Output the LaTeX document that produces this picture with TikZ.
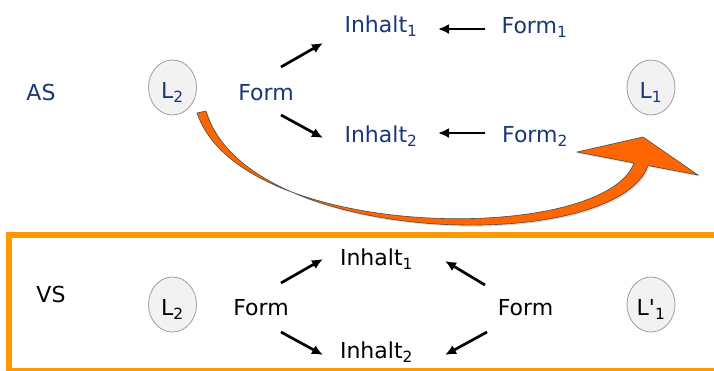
\documentclass[tikz,border=0pt]{standalone}
\usepackage{fontspec}
\newfontfamily\verdfont{DejaVu Sans}
\usetikzlibrary{arrows.meta,shapes.geometric,shadows}
\definecolor{asblau}{RGB}{25,55,120}
\definecolor{rahmen}{RGB}{255,153,0}
\definecolor{bogen}{RGB}{255,102,0}
\definecolor{kreis}{RGB}{242,242,242}

\begin{document}
\begin{tikzpicture}[x=1pt,y=-1pt,line width=.5pt,
  txt/.style={anchor=base,inner sep=0pt,font=\verdfont\fontsize{22}{26}\selectfont},
  sprache/.style={ellipse,draw=black!38,fill=kreis,line width=.8pt,minimum width=48pt,minimum height=55pt,inner sep=0pt,text height=22pt,text depth=0pt,font=\verdfont\fontsize{22}{26}\selectfont},
  pfeil/.style={line width=2.7pt,-{Latex[length=11pt,width=10pt]}}]
\path[use as bounding box] (0,0) rectangle (714,370);
% AS
\node[txt,asblau] (asLbl) at (41,100) {AS};
\node[sprache,text=asblau] (lzweiA) at (172.5,87.5) {L\textsubscript{2}};
\node[txt,asblau] (formA) at (266,100) {Form};
\node[txt,asblau] (inhaltA) at (381,32.5) {Inhalt\textsubscript{1}};
\node[txt,asblau] (inhaltB) at (381,142.5) {Inhalt\textsubscript{2}};
\node[txt,asblau] (formEins) at (534.5,33) {Form\textsubscript{1}};
\node[txt,asblau] (formZwei) at (535,142.5) {Form\textsubscript{2}};
\node[sprache,text=asblau] (lEins) at (651,87.5) {L\textsubscript{1}};
\draw[pfeil] ([shift={(15,-33)}]formA.base) -- ([shift={(-58,10.5)}]inhaltA.base);
\draw[pfeil] ([shift={(15,15)}]formA.base) -- ([shift={(-58,-4.5)}]inhaltB.base);
\draw[pfeil] ([shift={(-49.5,-4)}]formEins.base) -- ([shift={(57,-3.5)}]inhaltA.base);
\draw[pfeil] ([shift={(-50,-9.5)}]formZwei.base) -- ([shift={(57,-9.5)}]inhaltB.base);
% gebogener Pfeil
\draw[fill=bogen,draw=black!70,line width=.6pt,drop shadow={opacity=.3,shadow xshift=1.5pt,shadow yshift=-1.5pt}]
  (577,152) -- (643,137) -- (698,175) -- (648,165.5)
  .. controls (617,255) and (247,249) .. (206,111) -- (197,113)
  .. controls (241,243) and (604,245) .. (634,163) -- cycle;
% VS
\draw[rahmen,line width=5.5pt] (9,235) rectangle (722,371);
\node[txt] (vsLbl) at (51,302) {VS};
\node[sprache] (lzweiB) at (172.5,304.5) {L\textsubscript{2}};
\node[txt] (formC) at (261,315) {Form};
\node[txt] (inhaltC) at (376.5,265) {Inhalt\textsubscript{1}};
\node[txt] (inhaltD) at (376.5,358) {Inhalt\textsubscript{2}};
\node[txt] (formD) at (525.5,315) {Form};
\node[sprache] (lStrich) at (651,304.5) {L'\textsubscript{1}};
\draw[pfeil] ([shift={(20,-32)}]formC.base) -- ([shift={(-53.5,-6)}]inhaltC.base);
\draw[pfeil] ([shift={(20,17)}]formC.base) -- ([shift={(-53.5,-3)}]inhaltD.base);
\draw[pfeil] ([shift={(-40.5,-30)}]formD.base) -- ([shift={(68.5,-4)}]inhaltC.base);
\draw[pfeil] ([shift={(-38.5,17)}]formD.base) -- ([shift={(68.5,-3)}]inhaltD.base);
\end{tikzpicture}
\end{document}
